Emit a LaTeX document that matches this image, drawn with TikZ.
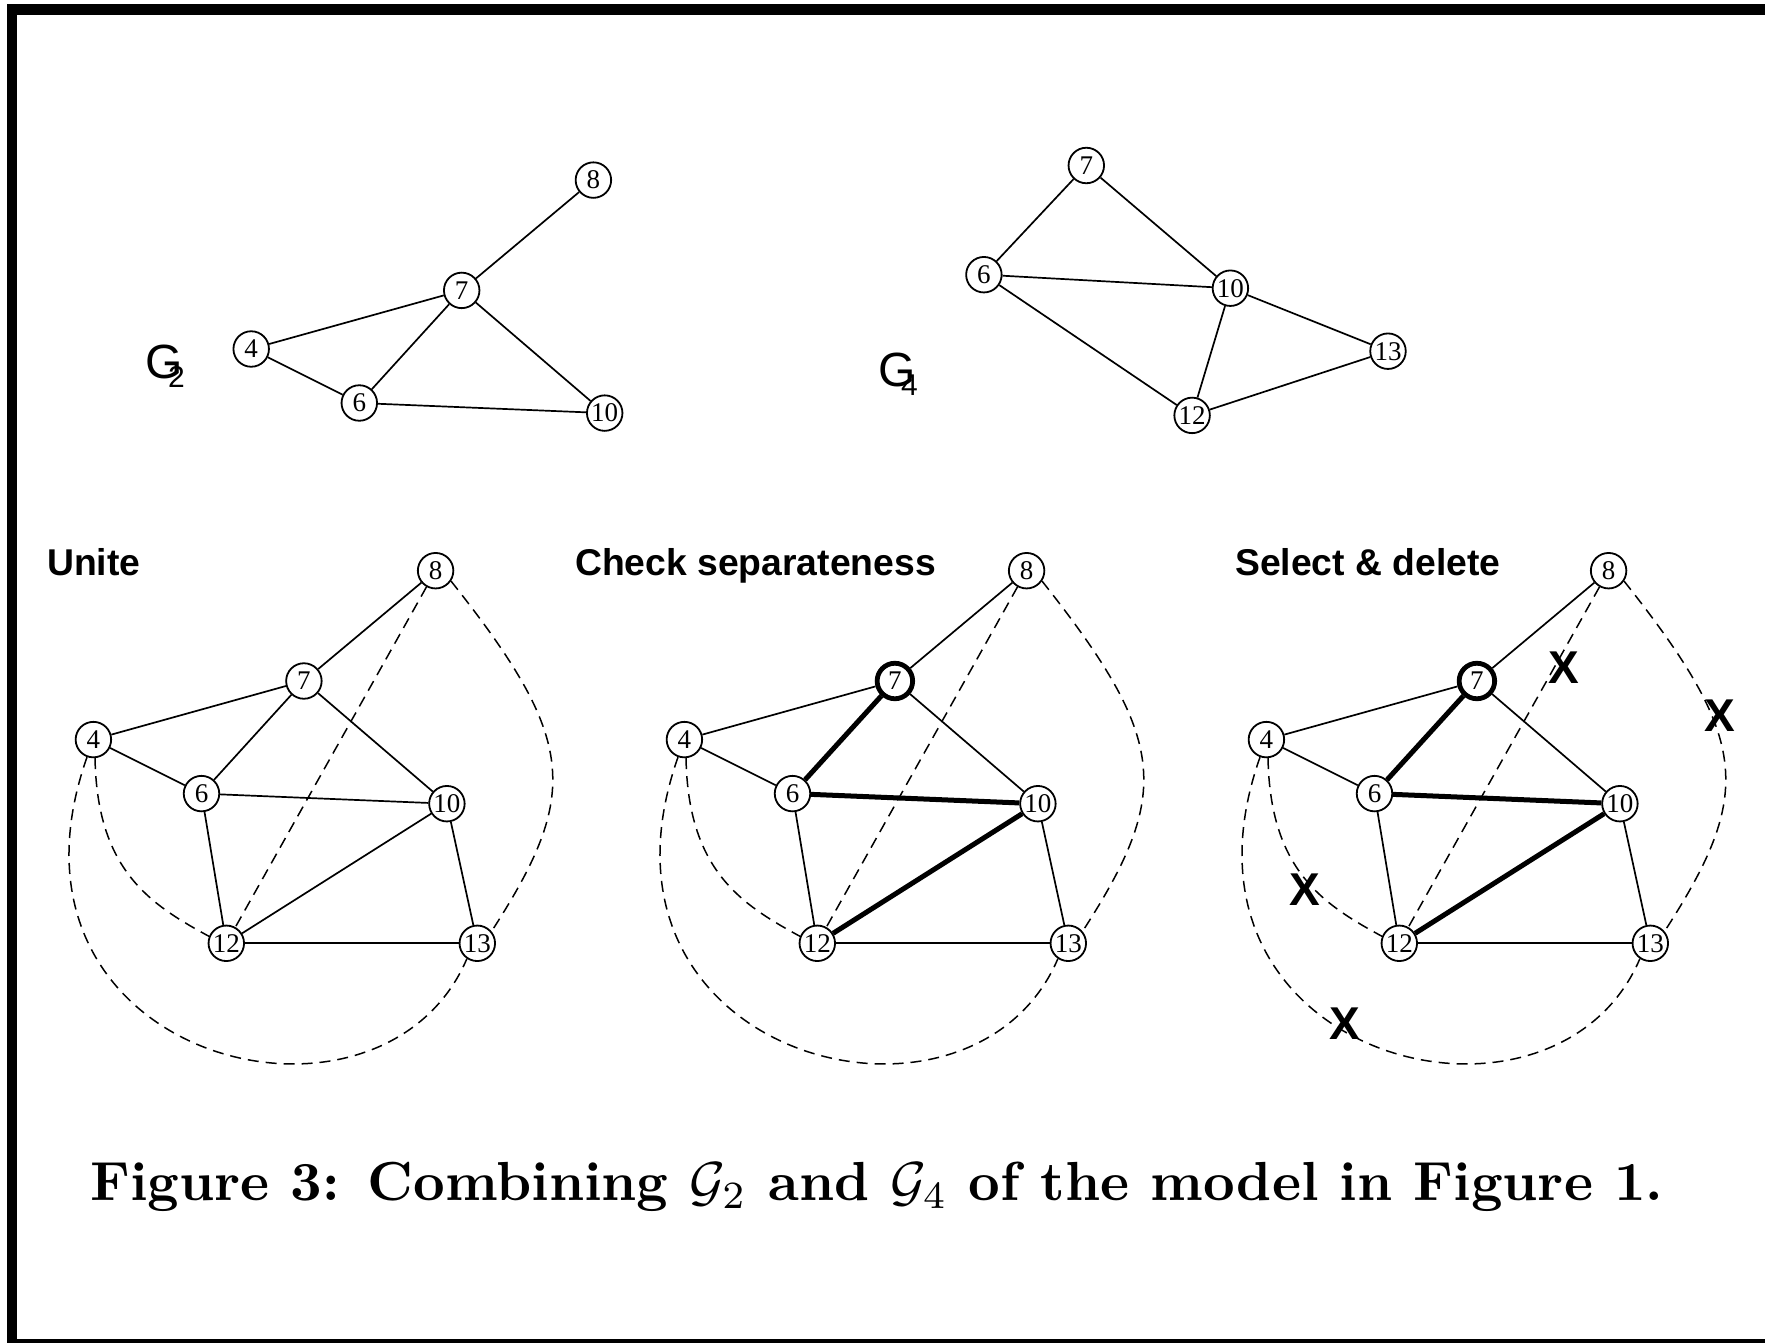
\documentclass[tikz,border=0pt]{standalone}
\usepackage{fontspec}
\newfontfamily\numfont{Liberation Serif}
\newfontfamily\sansfnt{Liberation Sans}
\newcommand\UnionPanel[3]{%
  \node[#3] (#1-7) at (303.9,681.0) {7};
  \node[vtx] (#1-8) at (435.6,570.7) {8};
  \node[vtx] (#1-4) at (93.4,739.6) {4};
  \node[vtx] (#1-6) at (201.5,793.6) {6};
  \node[vtx] (#1-10) at (446.9,803.7) {10};
  \node[vtx] (#1-12) at (226.3,943.3) {12};
  \node[vtx] (#1-13) at (477.3,943.3) {13};
  \draw[edge] (#1-8) -- (#1-7);
  \draw[edge] (#1-7) -- (#1-4);
  \draw[edge] (#1-7) -- (#1-10);
  \draw[edge] (#1-4) -- (#1-6);
  \draw[edge] (#1-6) -- (#1-12);
  \draw[edge] (#1-10) -- (#1-13);
  \draw[edge] (#1-12) -- (#1-13);
  \draw[#2] (#1-7) -- (#1-6);
  \draw[#2] (#1-6) -- (#1-10);
  \draw[#2] (#1-10) -- (#1-12);
  \draw[dashedge] (#1-8) -- (#1-12);
  \draw[dashedge] (#1-8.-34) .. controls +(126,159) and +(89,-138) .. (#1-13.40);
  \draw[dashedge] (#1-4.-85) .. controls +(2,112) and +(-59,-32) .. (#1-12.158);
  \draw[dashedge] (#1-4.-110) .. controls +(-107,303) and +(-86.4,202) .. (#1-13.-124);
}
\begin{document}
\begin{tikzpicture}[x=1pt,y=-1pt,
  vtx/.style={circle,draw,line width=1.8pt,fill=white,minimum size=35.5pt,inner sep=0pt,
    font=\numfont\fontsize{27}{27}\selectfont},
  hub/.style={vtx,line width=4.8pt},
  edge/.style={line width=1.7pt},
  heavy/.style={line width=5pt},
  dashedge/.style={line width=1.5pt,dash pattern=on 11pt off 7pt},
  title/.style={font=\sansfnt\bfseries\fontsize{37.3}{40}\selectfont,anchor=base west,inner sep=0pt},
  xmark/.style={font=\sansfnt\bfseries\fontsize{46}{46}\selectfont,inner sep=0pt},
  glabel/.style={anchor=base west,inner sep=0pt,font=\sansfnt\fontsize{48}{48}\selectfont}
]
\useasboundingbox (0,0) rectangle (1765,1343);
% frame
\fill (7,4) rectangle (1765,14.7);
\fill (7,4) rectangle (17,1343);
\fill (7,1339) rectangle (1765,1343);

% G2
\begin{scope}[shift={(157.8,-390.6)}]
  \node[vtx] (a-8) at (435.6,570.7) {8};
  \node[vtx] (a-7) at (303.9,681.0) {7};
  \node[vtx] (a-4) at (93.4,739.6) {4};
  \node[vtx] (a-6) at (201.5,793.6) {6};
  \node[vtx] (a-10) at (446.9,803.7) {10};
  \draw[edge] (a-8) -- (a-7);
  \draw[edge] (a-7) -- (a-4);
  \draw[edge] (a-7) -- (a-6);
  \draw[edge] (a-7) -- (a-10);
  \draw[edge] (a-4) -- (a-6);
  \draw[edge] (a-6) -- (a-10);
\end{scope}
\node[glabel] (g2lab) at (145,378) {G\kern-0.3em\raisebox{-0.2em}{\fontsize{30}{30}\selectfont 2}};

% G4
\node[vtx] (b-7) at (1086.3,165.5) {7};
\node[vtx] (b-6) at (983.9,274.7) {6};
\node[vtx] (b-10) at (1230.4,288.2) {10};
\node[vtx] (b-13) at (1388,351.2) {13};
\node[vtx] (b-12) at (1192.1,415.4) {12};
\draw[edge] (b-7) -- (b-6);
\draw[edge] (b-7) -- (b-10);
\draw[edge] (b-6) -- (b-10);
\draw[edge] (b-6) -- (b-12);
\draw[edge] (b-10) -- (b-12);
\draw[edge] (b-10) -- (b-13);
\draw[edge] (b-12) -- (b-13);
\node[glabel] (g4lab) at (878,386) {G\kern-0.3em\raisebox{-0.2em}{\fontsize{30}{30}\selectfont 4}};

% panels
\node[title] (t1) at (47,575) {Unite};
\node[title] (t2) at (575,575) {Check separateness};
\node[title] (t3) at (1235,575) {Select \& delete};

\UnionPanel{u}{edge}{vtx}
\begin{scope}[shift={(591,0)}]
  \UnionPanel{c}{heavy}{hub}
\end{scope}
\begin{scope}[shift={(1173,0)}]
  \UnionPanel{s}{heavy}{hub}
\end{scope}

\node[xmark] (x1) at (1564,668) {X};
\node[xmark] (x2) at (1720,716) {X};
\node[xmark] (x3) at (1305,890) {X};
\node[xmark] (x4) at (1345,1024) {X};

% caption
\node[anchor=base west,inner sep=0pt] (cap) at (90,1200)
  {\resizebox{1573pt}{!}{\bfseries Figure 3: Combining $\mathcal{G}_2$ and $\mathcal{G}_4$ of the model in Figure 1.}};
\end{tikzpicture}
\end{document}
